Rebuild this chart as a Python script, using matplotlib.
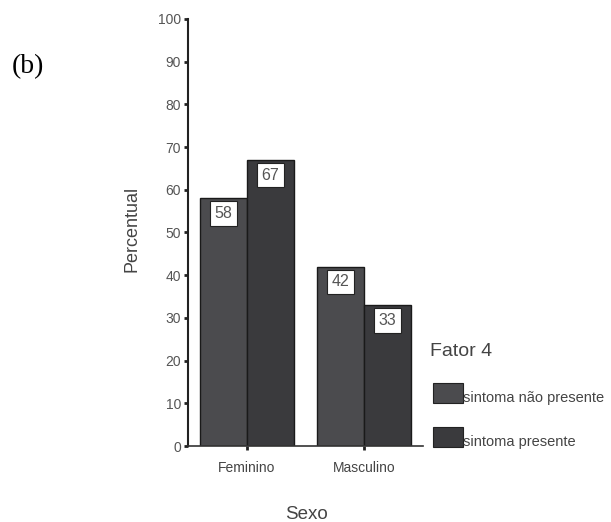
import numpy as np
import matplotlib.pyplot as plt
from matplotlib.patches import Rectangle

# dados
categorias = ['Feminino', 'Masculino']
nao_presente = [58, 42]
presente = [67, 33]
series = ['sintoma não presente', 'sintoma presente']
cores = ['#4b4b4e', '#3a3a3d']

plt.rcParams['font.family'] = ['Liberation Sans', 'DejaVu Sans']
W, H = 611, 522

fig = plt.figure(figsize=(6.11, 5.22), dpi=100)
ax = fig.add_axes([188/W, 1-446/H, 235/W, 427/H])

x = np.arange(len(categorias))
w = 0.4
b1 = ax.bar(x - w/2, nao_presente, w, color=cores[0], edgecolor='#1a1a1a', linewidth=1)
b2 = ax.bar(x + w/2, presente, w, color=cores[1], edgecolor='#1a1a1a', linewidth=1)

# rotulos de valor dentro das barras
for bars, vals in [(b1, nao_presente), (b2, presente)]:
    for r, v in zip(bars, vals):
        ax.annotate(str(v), (r.get_x() + r.get_width()/2, v), xytext=(0, -11),
                    textcoords='offset points', ha='center', va='center',
                    fontsize=11.5, color='#555555',
                    bbox=dict(boxstyle='square,pad=0.3', fc='white', ec='#222222', lw=0.8))

ax.set_xlim(-0.5, 1.5)
ax.set_ylim(0, 100)
ax.set_yticks(np.arange(0, 101, 10))
ax.set_xticks(x)
ax.set_xticklabels(categorias, fontsize=10, color='#444444')
ax.tick_params(axis='y', direction='out', length=3, width=2, labelsize=10,
               labelcolor='#555555', color='#222222', pad=2)
ax.tick_params(axis='x', direction='out', length=3, width=2, color='#222222', pad=8)
for s in ['top', 'right']:
    ax.spines[s].set_visible(False)
ax.spines['left'].set_linewidth(1.5)
ax.spines['left'].set_color('#222222')
ax.spines['bottom'].set_linewidth(1.2)
ax.spines['bottom'].set_color('#333333')

ax.set_ylabel('Percentual', fontsize=13, color='#444444')
ax.yaxis.set_label_coords((141-188)/235, (446-229)/427)
ax.set_xlabel('Sexo', fontsize=13.5, color='#444444')
ax.xaxis.set_label_coords((306-188)/235, (446-506)/427)

# legenda
fig.text(430/W, 1-352/H, 'Fator 4', fontsize=14, color='#444444', va='center')
for i, (lab, y0) in enumerate(zip(series, [403, 447])):
    fig.add_artist(Rectangle((433/W, 1-y0/H), 30/W, 20/H, transform=fig.transFigure,
                             facecolor=cores[i], edgecolor='#222222', lw=0.8))
    fig.text(463/W, 1-(y0-1)/H, lab, fontsize=10.5, color='#444444', va='baseline')

fig.text(12/W, 1-67/H, '(b)', fontsize=20, family='Liberation Serif', va='center')

fig.savefig('out.png', dpi=100)
